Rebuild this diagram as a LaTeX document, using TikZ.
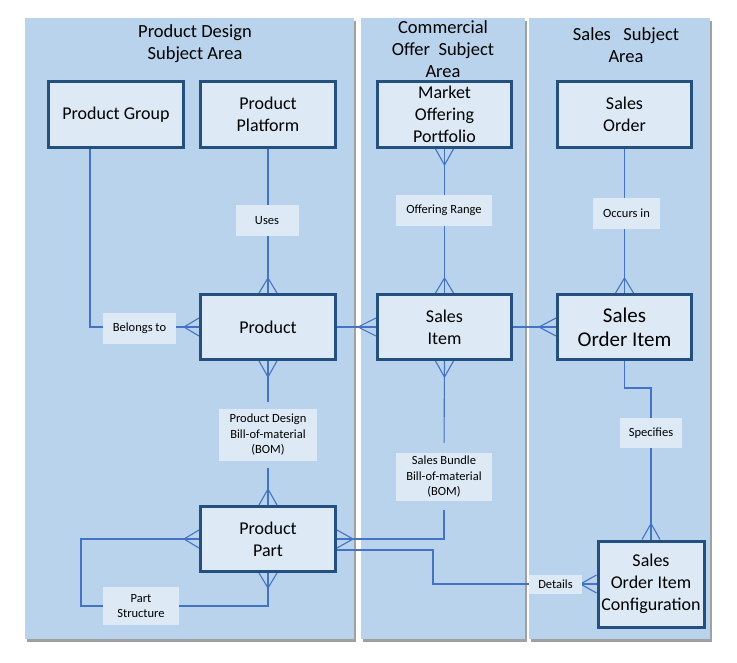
\documentclass[tikz,border=0pt]{standalone}
\usepackage{fontspec}
\setmainfont{Carlito}
\usetikzlibrary{calc}
\definecolor{panel}{HTML}{B8D3EB}
\definecolor{boxfill}{HTML}{DDEAF6}
\definecolor{boxline}{HTML}{245080}
\definecolor{connc}{HTML}{4472C4}
\definecolor{shade}{HTML}{A0A0A0}
\pgfdeclarelayer{bg}
\pgfdeclarelayer{lines}
\pgfsetlayers{bg,lines,main}
\tikzset{
  entity/.style={draw=boxline, line width=3pt, fill=boxfill, align=center, inner sep=0pt,
    font=\fontsize{18}{22}\selectfont},
  rel/.style={fill=boxfill, align=center, inner sep=0pt, font=\fontsize{12.5}{15.5}\selectfont},
  link/.style={draw=connc, line width=1.1pt},
  areatitle/.style={align=center, font=\fontsize{18.5}{22}\selectfont},
  panelbox/.style={fill=panel},
  panelshadow/.style={fill=shade},
}
\newcommand\crowfoot[3]{\draw[link] ($#1+#2$) -- ($#1+#3$) ($#1+#2$) -- ($#1-#3$);}
\begin{document}
\begin{tikzpicture}[x=1pt,y=-1pt]
\useasboundingbox (0,0) rectangle (737,663);
% titles
\node[areatitle] (t1) at (195,44) {Product Design\\Subject Area};
\node[areatitle] (t2) at (443,49) {Commercial\\Offer~~Subject\\Area};
\node[areatitle] (t3) at (626,45.5) {Sales~~~Subject\\Area};
% entities
\node[entity, minimum width=135pt, minimum height=66pt] (PG) at (116,114.5) {Product Group};
\node[entity, minimum width=135pt, minimum height=66pt] (PP) at (268,114.5) {Product\\Platform};
\node[entity, minimum width=134pt, minimum height=66pt] (MOP) at (444.5,114.5) {Market\\Offering\\Portfolio};
\node[entity, minimum width=134pt, minimum height=66pt] (SO) at (624.5,114.5) {Sales\\Order};
\node[entity, minimum width=135pt, minimum height=65pt] (P) at (268,327) {Product};
\node[entity, minimum width=134pt, minimum height=65pt] (SI) at (444.5,327) {Sales\\Item};
\node[entity, minimum width=134pt, minimum height=65pt, font=\fontsize{21}{24}\selectfont] (SOI) at (624.5,327) {Sales\\Order Item};
\node[entity, minimum width=135pt, minimum height=65pt] (PPart) at (268,539) {Product\\Part};
\node[entity, minimum width=106pt, minimum height=86pt] (SOIC) at (651,584) {Sales\\Order Item\\Configuration};
% relationship labels
\node[rel, minimum width=63pt, minimum height=31pt] (uses) at (267,220.5) {Uses};
\node[rel, minimum width=73pt, minimum height=31pt] (belongs) at (139.5,328.5) {Belongs to};
\node[rel, minimum width=96pt, minimum height=31pt] (offer) at (444,210.5) {Offering Range};
\node[rel, minimum width=67pt, minimum height=31pt] (occurs) at (626.5,213.5) {Occurs in};
\node[rel, minimum width=98pt, minimum height=52pt] (pdbom) at (268,435) {Product Design\\Bill-of-material\\(BOM)};
\node[rel, minimum width=96pt, minimum height=48pt] (sbbom) at (444,477) {Sales Bundle\\Bill-of-material\\(BOM)};
\node[rel, minimum width=62pt, minimum height=30pt] (spec) at (651,433) {Specifies};
\node[rel, minimum width=53pt, minimum height=19pt] (details) at (555.5,584.5) {Details};
\node[rel, minimum width=76pt, minimum height=38pt] (pstruct) at (141,606) {Part\\Structure};
\coordinate (k1) at (433,584);
\coordinate (ps) at (81,606);
% panels
\begin{pgfonlayer}{bg}
\fill[panelshadow] (27,21) rectangle (356,642);
\fill[panelshadow] (363,21) rectangle (527,642);
\fill[panelshadow] (531,21) rectangle (712,642);
\fill[panelbox] (25,18) rectangle (354,639);
\fill[panelbox] (361,18) rectangle (525,639);
\fill[panelbox] (529,18) rectangle (710,639);
\end{pgfonlayer}
% connectors
\begin{pgfonlayer}{lines}
\draw[link] ($(PG.south)+(-26,0)$) |- (P.west);
\draw[link] (PP.south) -- (P.north);
\draw[link] (MOP.south) -- (SI.north);
\draw[link] (SO.south) -- (SOI.north);
\draw[link] (P.east) -- (SI.west);
\draw[link] (SI.east) -- (SOI.west);
\draw[link, shorten >=7pt] (P.south) -- (pdbom.north);
\draw[link, shorten <=7pt] (pdbom.south) -- (PPart.north);
\draw[link, shorten >=10pt] (SI.south) -- (sbbom.north);
\draw[link, shorten <=9pt] (sbbom.south) |- (PPart.east);
\draw[link] ($(PPart.east)+(0,11)$) -| (k1) -- (SOIC.west);
\draw[link] (PPart.west) -| (ps) -| (PPart.south);
\draw[link] (SOI.south) -- ++(0,27) -| (SOIC.north);
\crowfoot{(P.north)}{(0,-15)}{(9,0)}
\crowfoot{(P.west)}{(-15,0)}{(0,9)}
\crowfoot{(P.south)}{(0,16)}{(9,0)}
\crowfoot{(PPart.north)}{(0,-16)}{(9,0)}
\crowfoot{(PPart.west)}{(-15,0)}{(0,9)}
\crowfoot{(PPart.south)}{(0,15)}{(9,0)}
\crowfoot{(PPart.east)}{(16,0)}{(0,9)}
\crowfoot{(MOP.south)}{(0,16)}{(9,0)}
\crowfoot{(SI.north)}{(0,-15)}{(9,0)}
\crowfoot{(SI.south)}{(0,16)}{(9,0)}
\crowfoot{(SI.west)}{(-18,0)}{(0,9)}
\crowfoot{(SOI.north)}{(0,-15)}{(9,0)}
\crowfoot{(SOI.west)}{(-17,0)}{(0,9)}
\crowfoot{(SOIC.north)}{(0,-16)}{(9,0)}
\crowfoot{(SOIC.west)}{(-16,0)}{(0,9)}
\end{pgfonlayer}
\end{tikzpicture}
\end{document}
